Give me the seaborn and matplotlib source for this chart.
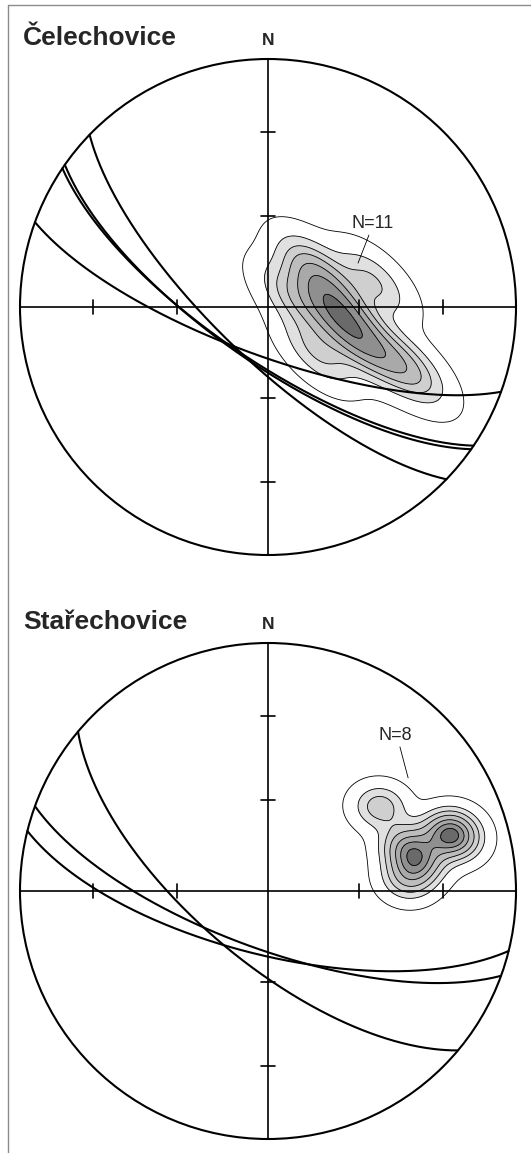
# %%
import numpy as np
import pandas as pd
import matplotlib
matplotlib.use("Agg")
import matplotlib.pyplot as plt
from matplotlib.patches import Circle
from matplotlib.lines import Line2D
import seaborn as sns

# %%
# Data (read off the two stereonets)
site_names = ["Čelechovice", "Stařechovice"]
count_labels = ["N=11", "N=8"]

# planes: dip direction / dip
cel_dip_dir = [224, 215, 214, 200]
cel_dip = [73, 72, 72.5, 74]
sta_dip_dir = [220, 200, 194]
sta_dip = [67, 71, 69]

# contoured lineations: trend / plunge
cel_trend = [97.6, 103.7, 90.0, 68.2, 48.4, 68.2, 132.0, 76.6, 112.6, 114.1, 112.8]
cel_plunge = [65.1, 62.2, 68.3, 70.6, 70.2, 81.2, 67.9, 54.2, 46.5, 36.1, 55.8]
sta_trend = [76.1, 79.6, 72.5, 71.4, 75.1, 53.1, 70.8, 85.1]
sta_plunge = [39.6, 37.7, 25.7, 22.8, 22.6, 42.9, 40.8, 42.8]

# %%
sns.set_style("white")
plt.rcParams['font.family'] = ['Liberation Sans', 'DejaVu Sans']

LIM = 1.06
R_PX = 248
W, H = 531, 1153
levels = [0.02, 0.12, 0.25, 0.4, 0.55, 0.72, 0.91, 1]
shades = ["white", "#e0e0e0", "#cfcfcf", "#bdbdbd", "#a9a9a9", "#8f8f8f", "#6a6a6a"]


def project(trend, plunge):
    # lower hemisphere equal-area (Schmidt) projection
    t = np.radians(trend)
    p = np.radians(plunge)
    r = np.sqrt(2) * np.sin((np.pi / 2 - p) / 2)
    return r * np.sin(t), r * np.cos(t)


def great_circle(dd, dip):
    s = np.radians(dd - 90)
    d = np.radians(dd)
    dp = np.radians(dip)
    t = np.linspace(0, np.pi, 241)
    e = np.cos(t) * np.sin(s) + np.sin(t) * np.sin(d) * np.cos(dp)
    n = np.cos(t) * np.cos(s) + np.sin(t) * np.cos(d) * np.cos(dp)
    z = np.sin(t) * np.sin(dp)
    return project(np.degrees(np.arctan2(e, n)), np.degrees(np.arcsin(np.clip(z, -1, 1))))


def axes_rect(cx, cy):
    half = LIM * R_PX
    return [(cx - half) / W, (H - cy - half) / H, 2 * half / W, 2 * half / H]


def draw_net(ax, dip_dir, dip, trend, plunge, name, label, label_xy, leader, bw):
    px, py = project(np.array(trend, dtype=float), np.array(plunge, dtype=float))
    pts = pd.DataFrame({'east': px, 'north': py})
    sns.kdeplot(data=pts, x='east', y='north', fill=True, levels=levels, color='k',
                colors=shades, bw_adjust=bw, ax=ax)
    sns.kdeplot(data=pts, x='east', y='north', fill=False, levels=levels[:-1], color='k',
                colors='k', linewidths=0.6, bw_adjust=bw, ax=ax)
    clip = Circle((0, 0), 1, transform=ax.transData)
    for coll in ax.collections:
        coll.set_clip_path(clip)
    ax.set_xlim(-LIM, LIM)
    ax.set_ylim(-LIM, LIM)
    ax.set_aspect('equal')
    ax.axis('off')

    # primitive circle and cross
    ax.add_patch(Circle((0, 0), 1, fill=False, ec='k', lw=1.5, zorder=5))
    ax.plot([-1, 1], [0, 0], color='k', lw=1.2, zorder=4)
    ax.plot([0, 0], [-1, 1], color='k', lw=1.2, zorder=4)
    for r in [np.sqrt(2) * np.sin(np.radians(15)), np.sqrt(2) * np.sin(np.radians(30))]:
        for sgn in [-1, 1]:
            ax.plot([sgn * r, sgn * r], [-0.028, 0.028], color='k', lw=1.2, zorder=4)
            ax.plot([-0.028, 0.028], [sgn * r, sgn * r], color='k', lw=1.2, zorder=4)

    for a, b in zip(dip_dir, dip):
        gx, gy = great_circle(a, b)
        ax.plot(gx, gy, color='k', lw=1.5, zorder=6)

    ax.text(-0.988, 1.058, name, fontsize=19, fontweight='bold', ha='left', va='baseline',
            clip_on=False)
    ax.text(0, 1.058, "N", fontsize=12.5, fontweight='bold', ha='center', va='baseline',
            clip_on=False)
    ax.text(label_xy[0], label_xy[1], label, fontsize=13, ha='center', va='center', zorder=7)
    ax.plot(leader[0], leader[1], color='k', lw=0.6, zorder=7)


fig = plt.figure(figsize=(W / 100, H / 100), dpi=100)

ax1 = fig.add_axes(axes_rect(268, 307))
draw_net(ax1, cel_dip_dir, cel_dip, cel_trend, cel_plunge, site_names[0], count_labels[0],
         (0.423, 0.337), ([0.407, 0.363], [0.290, 0.177]), 1.0)

ax2 = fig.add_axes(axes_rect(268, 891))
draw_net(ax2, sta_dip_dir, sta_dip, sta_trend, sta_plunge, site_names[1], count_labels[1],
         (0.512, 0.629), ([0.532, 0.565], [0.581, 0.456]), 0.9)

# grey frame (left and top edges visible)
fig.add_artist(Line2D([8 / W, 8 / W], [0, 1 - 5 / H], color='#8c8c8c', lw=1, transform=fig.transFigure))
fig.add_artist(Line2D([8 / W, 1], [1 - 5 / H, 1 - 5 / H], color='#8c8c8c', lw=1, transform=fig.transFigure))

fig.savefig("out.png", dpi=100)
